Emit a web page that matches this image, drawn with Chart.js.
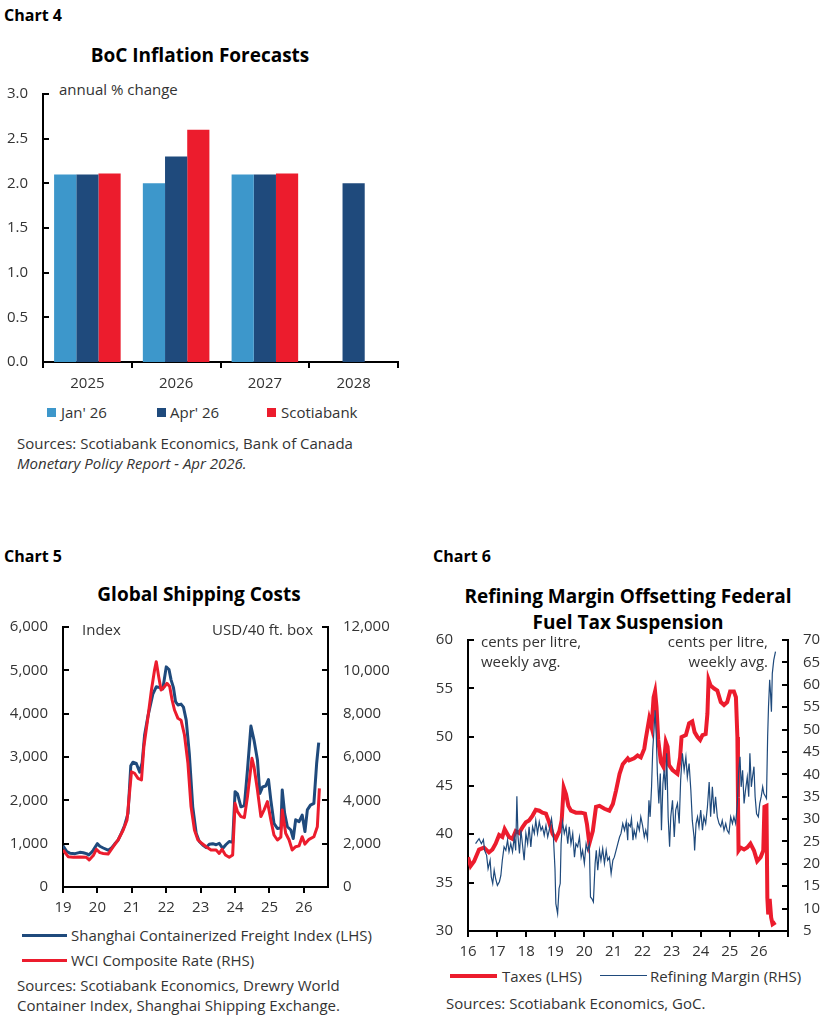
<!DOCTYPE html>
<html>
<head>
<meta charset="utf-8">
<script src="https://cdn.jsdelivr.net/npm/chart.js@4.4.1/dist/chart.umd.min.js"></script>
<style>
body { margin: 0; background: #fff; width: 828px; height: 1023px; position: relative; overflow: hidden;
       font-family: 'Open Sans', sans-serif; color: #333; }
.t { position: absolute; white-space: nowrap; font-size: 15px; line-height: 20px; color: #333; }
.lbl { position: absolute; font-weight: bold; font-size: 16px; line-height: 20px; color: #000; }
.ttl { position: absolute; font-weight: bold; font-size: 19px; line-height: 26px; color: #000; text-align: center; }
.sq { position: absolute; width: 9px; height: 9px; }
.ln { position: absolute; height: 0; }
canvas { position: absolute; }
</style>
</head>
<body>

<!-- Chart 4 -->
<div class="lbl" style="left:4px;top:5px">Chart 4</div>
<div class="ttl" style="left:0;width:400px;top:42px">BoC Inflation Forecasts</div>
<div class="t" style="left:59px;top:79px">annual % change</div>
<canvas id="c4" width="420" height="330" style="left:0;top:70px"></canvas>
<div class="sq" style="left:47px;top:408px;background:#3d97cb"></div>
<div class="t" style="left:61px;top:402px">Jan' 26</div>
<div class="sq" style="left:157px;top:408px;background:#1f4a7c"></div>
<div class="t" style="left:170px;top:402px">Apr' 26</div>
<div class="sq" style="left:267px;top:408px;background:#ec1c2d"></div>
<div class="t" style="left:281px;top:402px">Scotiabank</div>
<div class="t" style="left:17px;top:433px">Sources: Scotiabank Economics, Bank of Canada</div>
<div class="t" style="left:17px;top:453px;font-style:italic">Monetary Policy Report - Apr 2026.</div>

<!-- Chart 5 -->
<div class="lbl" style="left:4px;top:546px">Chart 5</div>
<div class="ttl" style="left:0;width:398px;top:581px">Global Shipping Costs</div>
<canvas id="c5" width="420" height="320" style="left:0;top:600px"></canvas>
<div class="t" style="left:82px;top:619px">Index</div>
<div class="t" style="right:515px;top:619px">USD/40 ft. box</div>
<div class="ln" style="left:22px;width:45px;top:934px;border-top:3px solid #1f4a7c"></div>
<div class="t" style="left:71px;top:925px">Shanghai Containerized Freight Index (LHS)</div>
<div class="ln" style="left:22px;width:45px;top:959px;border-top:3px solid #ec1c2d"></div>
<div class="t" style="left:71px;top:950px">WCI Composite Rate (RHS)</div>
<div class="t" style="left:17px;top:975px">Sources: Scotiabank Economics, Drewry World</div>
<div class="t" style="left:17px;top:995px">Container Index, Shanghai Shipping Exchange.</div>

<!-- Chart 6 -->
<div class="lbl" style="left:433px;top:546px">Chart 6</div>
<div class="ttl" style="left:420px;width:416px;top:583px">Refining Margin Offsetting Federal<br>Fuel Tax Suspension</div>
<canvas id="c6" width="408" height="350" style="left:420px;top:610px"></canvas>
<div class="t" style="left:481px;top:631px">cents per litre,<br>weekly avg.</div>
<div class="t" style="right:60px;top:631px;text-align:right">cents per litre,<br>weekly avg.</div>
<div class="ln" style="left:450px;width:47px;top:974px;border-top:4px solid #ec1c2d"></div>
<div class="t" style="left:502px;top:966px">Taxes (LHS)</div>
<div class="ln" style="left:600px;width:47px;top:975px;border-top:1.3px solid #1f4a7c"></div>
<div class="t" style="left:650px;top:966px">Refining Margin (RHS)</div>
<div class="t" style="left:446px;top:993px">Sources: Scotiabank Economics, GoC.</div>

<script>
// ---- chart 4 data ----
const years4 = ['2025', '2026', '2027', '2028'];
const jan26 = [2.1, 2.0, 2.1, null];
const apr26 = [2.1, 2.3, 2.1, 2.0];
const scotia = [2.11, 2.6, 2.11, null];
const ticks4 = [0, 0.5, 1.0, 1.5, 2.0, 2.5, 3.0];

// ---- chart 5 data: [year, value] ----
const scfi = [
  [2019.00, 950], [2019.11, 815], [2019.20, 780], [2019.35, 770], [2019.49, 800], [2019.59, 790],
  [2019.68, 770], [2019.75, 740], [2019.83, 800], [2019.88, 850], [2020.00, 1000], [2020.07, 940],
  [2020.17, 900], [2020.31, 850], [2020.41, 900], [2020.50, 990], [2020.60, 1080], [2020.70, 1250],
  [2020.79, 1420], [2020.89, 1700], [2020.97, 2800], [2021.03, 2880], [2021.13, 2850], [2021.23, 2650],
  [2021.30, 2870], [2021.37, 3500], [2021.47, 3950], [2021.61, 4450], [2021.71, 4620], [2021.81, 4600],
  [2021.90, 4570], [2022.00, 5080], [2022.08, 5020], [2022.14, 4780], [2022.21, 4600], [2022.27, 4280],
  [2022.34, 4200], [2022.43, 4220], [2022.50, 4150], [2022.58, 3850], [2022.67, 3080], [2022.77, 1850],
  [2022.87, 1240], [2022.96, 1050], [2023.06, 970], [2023.16, 910], [2023.25, 985], [2023.35, 1000],
  [2023.45, 975], [2023.54, 1010], [2023.64, 890], [2023.73, 975], [2023.83, 1050], [2023.93, 1030],
  [2024.00, 2200], [2024.07, 2150], [2024.17, 1850], [2024.27, 1880], [2024.36, 2700], [2024.46, 3715],
  [2024.55, 3390], [2024.65, 2930], [2024.72, 2160], [2024.80, 2310], [2024.89, 2330], [2024.97, 2480],
  [2025.04, 2000], [2025.13, 1470], [2025.23, 1350], [2025.33, 1360], [2025.37, 2240], [2025.44, 1700],
  [2025.52, 1390], [2025.62, 1315], [2025.69, 1120], [2025.76, 1550], [2025.86, 1510], [2025.95, 1660],
  [2026.03, 1280], [2026.10, 1780], [2026.19, 1890], [2026.29, 1930], [2026.37, 2850], [2026.43, 3330]
];
const wci = [
  [2019.00, 1710], [2019.15, 1400], [2019.30, 1370], [2019.49, 1390], [2019.68, 1370], [2019.76, 1250],
  [2019.88, 1450], [2019.97, 1740], [2020.07, 1585], [2020.17, 1550], [2020.31, 1520], [2020.46, 1860],
  [2020.60, 2170], [2020.75, 2630], [2020.86, 3090], [2020.99, 5320], [2021.08, 5250], [2021.18, 5015],
  [2021.28, 4940], [2021.35, 6480], [2021.47, 7860], [2021.57, 9090], [2021.66, 10015], [2021.71, 10400],
  [2021.78, 9710], [2021.85, 9090], [2021.95, 9250], [2022.02, 9400], [2022.10, 9250], [2022.17, 8630],
  [2022.24, 8170], [2022.34, 7785], [2022.43, 7700], [2022.53, 7015], [2022.63, 5710], [2022.72, 3710],
  [2022.82, 2630], [2022.92, 2170], [2023.01, 2045], [2023.16, 1860], [2023.30, 1710], [2023.45, 1710],
  [2023.54, 1550], [2023.62, 1740], [2023.72, 1480], [2023.83, 1370], [2023.93, 1480], [2024.00, 3860],
  [2024.07, 3480], [2024.17, 3250], [2024.27, 3200], [2024.36, 4170], [2024.49, 5940], [2024.55, 5550],
  [2024.65, 4480], [2024.75, 3250], [2024.84, 3550], [2024.94, 3940], [2025.04, 3090], [2025.13, 2400],
  [2025.23, 2170], [2025.33, 2300], [2025.37, 3550], [2025.47, 2480], [2025.57, 2170], [2025.66, 1710],
  [2025.76, 1860], [2025.86, 1900], [2025.95, 2320], [2026.03, 1980], [2026.15, 2200], [2026.29, 2320],
  [2026.39, 2780], [2026.45, 4550]
];

// ---- chart 6 data: [year, cents per litre] ----
const taxes = [
  [2016.00, 37.6], [2016.09, 36.7], [2016.21, 37.2], [2016.38, 38.4], [2016.55, 38.6], [2016.72, 38.1],
  [2016.84, 38.4], [2016.95, 39.0], [2017.07, 39.9], [2017.18, 39.7], [2017.26, 40.5], [2017.41, 39.7],
  [2017.53, 39.5], [2017.64, 40.3], [2017.76, 40.1], [2017.87, 40.7], [2017.99, 41.2], [2018.10, 41.4],
  [2018.22, 41.9], [2018.33, 42.5], [2018.45, 42.4], [2018.56, 42.2], [2018.68, 42.1], [2018.79, 41.2],
  [2018.91, 40.0], [2019.02, 39.5], [2019.14, 40.3], [2019.22, 41.4], [2019.29, 44.8], [2019.37, 44.1],
  [2019.45, 42.9], [2019.54, 42.4], [2019.71, 42.2], [2019.89, 42.2], [2020.02, 42.1], [2020.09, 41.0],
  [2020.17, 39.0], [2020.29, 40.3], [2020.40, 42.8], [2020.52, 42.9], [2020.69, 42.6], [2020.86, 42.4],
  [2020.98, 43.1], [2021.09, 44.5], [2021.21, 46.2], [2021.32, 47.2], [2021.49, 47.8], [2021.54, 47.6],
  [2021.71, 47.8], [2021.83, 48.1], [2021.94, 47.9], [2022.06, 48.8], [2022.11, 49.8], [2022.23, 51.9],
  [2022.31, 51.0], [2022.38, 54.1], [2022.43, 54.7], [2022.48, 53.1], [2022.54, 49.7], [2022.63, 47.4],
  [2022.72, 46.9], [2022.80, 49.5], [2022.86, 49.0], [2022.91, 47.1], [2023.03, 46.6], [2023.20, 46.2],
  [2023.29, 47.9], [2023.34, 50.0], [2023.49, 50.2], [2023.60, 51.4], [2023.71, 51.6], [2023.79, 50.5],
  [2023.89, 50.0], [2023.98, 49.7], [2024.06, 50.2], [2024.17, 50.3], [2024.23, 52.4], [2024.27, 55.9],
  [2024.34, 55.3], [2024.46, 55.0], [2024.57, 54.8], [2024.69, 53.6], [2024.80, 53.3], [2024.91, 53.6],
  [2025.01, 54.7], [2025.14, 54.7], [2025.21, 54.1], [2025.26, 50.0], [2025.28, 43.8], [2025.30, 38.3],
  [2025.37, 38.6], [2025.49, 38.4], [2025.60, 38.6], [2025.71, 39.0], [2025.83, 38.3], [2025.94, 37.2],
  [2026.06, 37.6], [2026.15, 38.3], [2026.19, 42.8], [2026.26, 42.9], [2026.29, 33.4], [2026.32, 31.7],
  [2026.37, 33.3], [2026.42, 31.4], [2026.47, 30.7], [2026.57, 30.9]
];
const margin = [
  [2016.26, 24.5], [2016.38, 25.6], [2016.46, 24.5], [2016.53, 25.4], [2016.57, 23.0], [2016.64, 21.9],
  [2016.69, 18.9], [2016.76, 20.8], [2016.80, 17.1], [2016.85, 15.6], [2016.90, 18.6], [2016.95, 16.7],
  [2017.01, 15.2], [2017.08, 16.0], [2017.13, 17.4], [2017.18, 20.8], [2017.24, 23.8], [2017.30, 23.0],
  [2017.36, 25.3], [2017.41, 22.7], [2017.47, 24.5], [2017.53, 22.7], [2017.59, 26.0], [2017.64, 23.0],
  [2017.68, 35.1], [2017.72, 26.0], [2017.77, 22.3], [2017.82, 27.5], [2017.87, 24.5], [2017.93, 20.8],
  [2017.99, 26.8], [2018.05, 24.5], [2018.10, 28.3], [2018.16, 23.8], [2018.22, 28.3], [2018.28, 26.8],
  [2018.33, 29.7], [2018.39, 26.8], [2018.45, 29.4], [2018.51, 27.5], [2018.56, 28.3], [2018.62, 26.4],
  [2018.68, 28.6], [2018.74, 26.0], [2018.79, 27.5], [2018.87, 30.1], [2018.93, 26.8], [2018.99, 18.9],
  [2019.02, 11.1], [2019.08, 8.9], [2019.13, 14.5], [2019.17, 15.6], [2019.20, 24.5], [2019.25, 29.4],
  [2019.31, 26.8], [2019.37, 28.3], [2019.43, 24.5], [2019.48, 28.3], [2019.54, 24.5], [2019.60, 26.8],
  [2019.66, 21.5], [2019.71, 24.5], [2019.77, 23.8], [2019.83, 26.0], [2019.89, 21.5], [2019.94, 23.0],
  [2020.00, 20.1], [2020.06, 24.5], [2020.11, 23.0], [2020.17, 24.5], [2020.21, 12.6], [2020.26, 12.2],
  [2020.31, 11.5], [2020.37, 20.1], [2020.41, 23.0], [2020.46, 18.6], [2020.52, 23.0], [2020.57, 20.8],
  [2020.63, 23.4], [2020.69, 20.1], [2020.75, 23.0], [2020.80, 20.8], [2020.86, 21.5], [2020.92, 17.8],
  [2020.98, 20.8], [2021.03, 21.5], [2021.09, 23.0], [2021.15, 24.5], [2021.21, 26.0], [2021.26, 26.8],
  [2021.32, 29.0], [2021.38, 27.5], [2021.44, 29.4], [2021.49, 25.3], [2021.51, 29.0], [2021.58, 28.3],
  [2021.62, 30.1], [2021.67, 25.3], [2021.71, 27.5], [2021.77, 26.0], [2021.83, 29.0], [2021.89, 27.5],
  [2021.94, 30.5], [2022.00, 28.6], [2022.06, 26.0], [2022.11, 27.5], [2022.17, 25.6], [2022.22, 34.2],
  [2022.26, 30.5], [2022.31, 37.2], [2022.35, 45.4], [2022.40, 50.6], [2022.43, 54.3], [2022.47, 49.1],
  [2022.51, 40.2], [2022.56, 33.5], [2022.61, 40.2], [2022.65, 27.5], [2022.70, 37.9], [2022.74, 40.9],
  [2022.79, 36.5], [2022.83, 44.7], [2022.88, 30.5], [2022.93, 23.8], [2022.97, 30.5], [2023.03, 34.2],
  [2023.09, 26.0], [2023.14, 32.0], [2023.20, 33.5], [2023.26, 29.0], [2023.31, 38.7], [2023.37, 44.7],
  [2023.43, 40.9], [2023.49, 43.9], [2023.54, 39.4], [2023.60, 42.4], [2023.66, 36.5], [2023.71, 29.7],
  [2023.77, 26.0], [2023.79, 23.0], [2023.84, 29.0], [2023.89, 30.5], [2023.94, 28.3], [2024.00, 32.0],
  [2024.06, 27.5], [2024.11, 30.5], [2024.17, 29.0], [2024.23, 32.7], [2024.29, 38.3], [2024.34, 30.5],
  [2024.40, 37.2], [2024.46, 31.2], [2024.51, 35.0], [2024.57, 30.5], [2024.63, 29.0], [2024.69, 28.3],
  [2024.74, 29.7], [2024.80, 27.5], [2024.86, 29.0], [2024.91, 27.5], [2024.97, 26.8], [2025.03, 30.5],
  [2025.09, 29.0], [2025.14, 30.5], [2025.20, 29.0], [2025.26, 33.5], [2025.30, 40.2], [2025.35, 43.9],
  [2025.39, 37.2], [2025.44, 40.9], [2025.49, 33.5], [2025.54, 36.5], [2025.60, 39.4], [2025.65, 35.0],
  [2025.69, 44.7], [2025.74, 37.2], [2025.78, 39.4], [2025.83, 41.7], [2025.87, 35.0], [2025.92, 31.2],
  [2025.98, 30.5], [2026.03, 33.5], [2026.08, 35.0], [2026.13, 37.2], [2026.17, 35.7], [2026.23, 35.0],
  [2026.26, 34.6], [2026.30, 48.4], [2026.33, 55.1], [2026.37, 61.1], [2026.40, 58.1], [2026.43, 54.0],
  [2026.46, 62.5], [2026.51, 65.5], [2026.57, 67.4]
];

const NAVY = '#1f4a7c';
const RED = '#ec1c2d';
const LIGHT = '#3d97cb';

Chart.defaults.font.family = "'Open Sans', sans-serif";
Chart.defaults.font.size = 15;
Chart.defaults.color = '#333';
Chart.defaults.animation = false;
Chart.defaults.events = [];
Chart.defaults.plugins.legend.display = false;
Chart.defaults.plugins.tooltip.enabled = false;

// tick marks on the y axes point into the plot
const inwardTicks = {
  id: 'inwardTicks',
  afterDraw(chart) {
    const ctx = chart.ctx;
    ctx.save();
    ctx.strokeStyle = '#000';
    ctx.lineWidth = 2;
    Object.values(chart.scales).forEach(s => {
      if (s.axis !== 'y') return;
      const left = s.position === 'left';
      const x = left ? s.right : s.left;
      s.ticks.forEach(t => {
        const y = Math.round(s.getPixelForValue(t.value));
        ctx.beginPath();
        ctx.moveTo(x, y);
        ctx.lineTo(x + (left ? 6 : -6), y);
        ctx.stroke();
      });
    });
    ctx.restore();
  }
};

function yAxis(pos, min, max, step, width, fmt) {
  return {
    position: pos, min: min, max: max,
    afterFit: s => { s.width = width; },
    ticks: { stepSize: step, padding: 15, color: '#333', callback: fmt },
    grid: { display: false, drawTicks: false },
    border: { display: true, color: '#000', width: 2 }
  };
}

function xYears(min, max, height, lastYear) {
  return {
    type: 'linear', min: min, max: max,
    afterFit: s => { s.height = height; },
    ticks: { stepSize: 1, includeBounds: false, autoSkip: false, maxRotation: 0, padding: 6, color: '#333',
             callback: v => (Math.round(v) > lastYear ? '' : String(Math.round(v) % 100)) },
    grid: { display: true, drawOnChartArea: false, drawTicks: true, tickLength: 6, color: '#000', lineWidth: 2 },
    border: { display: true, color: '#000', width: 2 }
  };
}

// Chart 4
new Chart(document.getElementById('c4'), {
  type: 'bar',
  data: {
    labels: years4,
    datasets: [
      { label: "Jan' 26", data: jan26, backgroundColor: LIGHT },
      { label: "Apr' 26", data: apr26, backgroundColor: NAVY },
      { label: 'Scotiabank', data: scotia, backgroundColor: RED }
    ]
  },
  options: {
    responsive: false,
    layout: { padding: { top: 20, right: 22, left: 0, bottom: 0 } },
    datasets: { bar: { categoryPercentage: 0.75, barPercentage: 1.0 } },
    scales: {
      x: {
        afterFit: s => { s.height = 38; },
        ticks: { padding: 7, color: '#333' },
        grid: { display: true, drawOnChartArea: false, drawTicks: true, tickLength: 6, color: '#000', lineWidth: 2 },
        border: { display: true, color: '#000', width: 2 }
      },
      y: Object.assign(yAxis('left', 0, 3, 0.5, 43, v => v.toFixed(1)), {
        afterBuildTicks: s => { s.ticks = ticks4.map(v => ({ value: v })); }
      })
    }
  },
  plugins: [inwardTicks]
});

// Chart 5
new Chart(document.getElementById('c5'), {
  type: 'line',
  data: {
    datasets: [
      { label: 'WCI Composite Rate (RHS)', data: wci.map(p => ({ x: p[0], y: p[1] })), yAxisID: 'y2',
        borderColor: RED, borderWidth: 3, pointRadius: 0, order: 0 },
      { label: 'Shanghai Containerized Freight Index (LHS)', data: scfi.map(p => ({ x: p[0], y: p[1] })), yAxisID: 'y',
        borderColor: NAVY, borderWidth: 3, pointRadius: 0, order: 1 }
    ]
  },
  options: {
    responsive: false,
    layout: { padding: { top: 27, right: 0, left: 0, bottom: 0 } },
    elements: { line: { tension: 0, borderJoinStyle: 'round' } },
    scales: {
      x: xYears(2019, 2026.7, 33, 2026),
      y: yAxis('left', 0, 6000, 1000, 63, v => v.toLocaleString('en-US')),
      y2: yAxis('right', 0, 12000, 2000, 92, v => v.toLocaleString('en-US'))
    }
  },
  plugins: [inwardTicks]
});

// Chart 6
new Chart(document.getElementById('c6'), {
  type: 'line',
  data: {
    datasets: [
      { label: 'Refining Margin (RHS)', data: margin.map(p => ({ x: p[0], y: p[1] })), yAxisID: 'y2',
        borderColor: NAVY, borderWidth: 1.2, pointRadius: 0, order: 0 },
      { label: 'Taxes (LHS)', data: taxes.map(p => ({ x: p[0], y: p[1] })), yAxisID: 'y',
        borderColor: RED, borderWidth: 4, pointRadius: 0, order: 1 }
    ]
  },
  options: {
    responsive: false,
    layout: { padding: { top: 30, right: 0, left: 0, bottom: 0 } },
    elements: { line: { tension: 0, borderJoinStyle: 'miter' } },
    scales: {
      x: xYears(2016, 2027, 29, 2026),
      y: yAxis('left', 30, 60, 5, 48, v => String(v)),
      y2: yAxis('right', 5, 70, 5, 40, v => String(v))
    }
  },
  plugins: [inwardTicks]
});
</script>
</body>
</html>
